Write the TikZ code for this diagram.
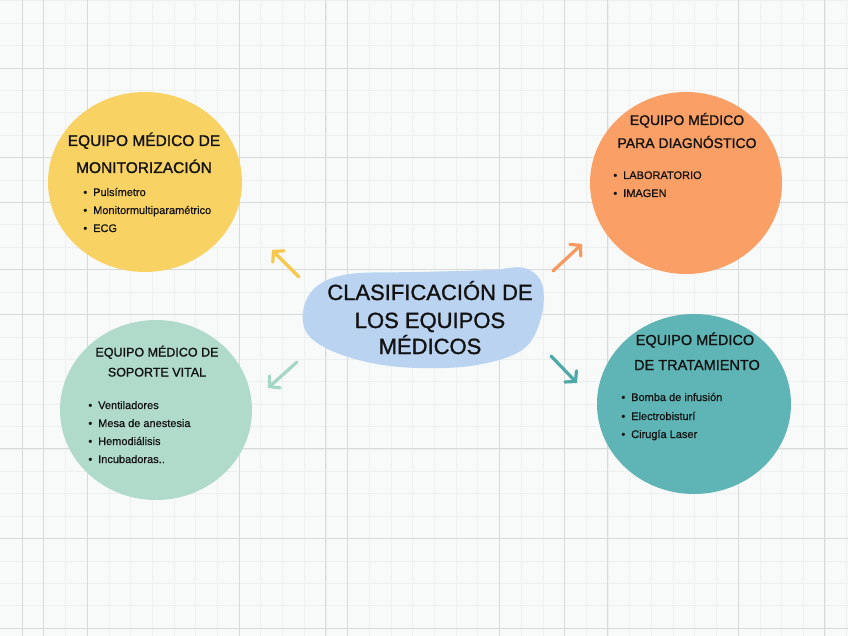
\documentclass[tikz,border=0pt]{standalone}
\usepackage{fontspec}
\setmainfont{Liberation Sans}
\newfontfamily\headfont[FakeBold=1.2]{Liberation Sans}
\newfontfamily\itemfont[FakeBold=0.6]{Liberation Sans}
\usetikzlibrary{arrows.meta,shapes.geometric}
\definecolor{bgc}{HTML}{F8F9F9}
\definecolor{gridfaint}{HTML}{EEEFEF}
\definecolor{gridmajor}{HTML}{D8D9D9}
\definecolor{cyellow}{HTML}{F9D264}
\definecolor{corange}{HTML}{FAA066}
\definecolor{cmint}{HTML}{B0DBCB}
\definecolor{cteal}{HTML}{5FB5B5}
\definecolor{cblob}{HTML}{B9D3F1}
\definecolor{ayellow}{HTML}{F6C84E}
\definecolor{aorange}{HTML}{F8985C}
\definecolor{amint}{HTML}{A6D6C6}
\definecolor{ateal}{HTML}{4EA9A9}
\definecolor{ink}{HTML}{121212}
\tikzset{
  gridf/.style={draw=gridfaint, line width=0.6pt},
  gridm/.style={draw=gridmajor, line width=0.9pt},
  bubble/.style={ellipse, inner sep=0pt, draw=none},
  ttl/.style={anchor=base, inner sep=0pt, text=ink},
  itm/.style={anchor=base west, inner sep=0pt, text=ink, font=\itemfont\fontsize{11}{13}\selectfont},
  arr/.style={line width=3.2pt, line cap=round, line join=round, -{Straight Barb[length=7pt,width=16pt,line cap=round]}},
}
\newcommand{\bul}{\llap{•\hspace{6pt}}}
\begin{document}
\begin{tikzpicture}[x=1pt,y=-1pt]
\useasboundingbox (0,0) rectangle (848,636);
\fill[bgc] (0,0) rectangle (848,636);
% grid
\foreach \i in {0,...,38} \draw[gridf] ({22+21.7*\i},0) -- ({22+21.7*\i},636);
\foreach \j in {0,...,28} \draw[gridf] (0,{0.8+22.4*\j}) -- (848,{0.8+22.4*\j});
\foreach \i in {0,1,3,10,14,15,22,25,27,33,37} \draw[gridm] ({22+21.7*\i},0) -- ({22+21.7*\i},636);
\foreach \j in {3,7,9,12,14,20,24,28} \draw[gridm] (0,{0.8+22.4*\j}) -- (848,{0.8+22.4*\j});

% bubbles
\node[bubble, fill=cyellow, minimum width=194pt, minimum height=180pt] (mon) at (145,182) {};
\node[bubble, fill=corange, minimum width=192pt, minimum height=182pt] (dia) at (686,183) {};
\node[bubble, fill=cmint, minimum width=192pt, minimum height=180pt] (sop) at (156,410) {};
\node[bubble, fill=cteal, minimum width=194pt, minimum height=180pt] (tra) at (694,404) {};

% central blob
\fill[cblob] plot[smooth cycle, tension=0.6] coordinates {(303,312) (316,287) (350,274) (420,272) (490,270) (524,268) (542,284) (541,318) (522,350) (470,366) (400,367) (345,356) (310,337)};
\node[inner sep=0pt] (cen) at (423,318) {};
\node[ttl, font=\headfont\fontsize{22}{26}\selectfont] (c1) at (430,300) {CLASIFICACIÓN DE};
\node[ttl, font=\headfont\fontsize{22}{26}\selectfont] (c2) at (430,328) {LOS EQUIPOS};
\node[ttl, font=\headfont\fontsize{22}{26}\selectfont] (c3) at (430,354) {MÉDICOS};

% arrows
\coordinate (ys) at (299,277); \coordinate (ye) at (272,250);
\coordinate (os) at (553,271); \coordinate (oe) at (582,244);
\coordinate (ms) at (297,362); \coordinate (me) at (268,388);
\coordinate (ts) at (551,356); \coordinate (te) at (577,383);
\draw[arr, ayellow] (ys) -- (ye);
\draw[arr, aorange] (os) -- (oe);
\draw[arr, amint] (ms) -- (me);
\draw[arr, ateal] (ts) -- (te);

% monitorizacion
\node[ttl, font=\headfont\fontsize{15.5}{18}\selectfont] (m1) at (144,146) {EQUIPO MÉDICO DE};
\node[ttl, font=\headfont\fontsize{15.5}{18}\selectfont] (m2) at (144,173) {MONITORIZACIÓN};
\node[itm] (m3) at (93,196) {\bul Pulsímetro};
\node[itm] (m4) at (93,214) {\bul Monitormultiparamétrico};
\node[itm] (m5) at (93,232) {\bul ECG};

% diagnostico
\node[ttl, font=\headfont\fontsize{14}{17}\selectfont] (d1) at (687,125) {EQUIPO MÉDICO};
\node[ttl, font=\headfont\fontsize{14}{17}\selectfont] (d2) at (687,148) {PARA DIAGNÓSTICO};
\node[itm] (d3) at (623,179) {\bul LABORATORIO};
\node[itm] (d4) at (623,197) {\bul IMAGEN};

% soporte vital
\node[ttl, font=\headfont\fontsize{12.5}{15}\selectfont] (s1) at (157,356.5) {EQUIPO MÉDICO DE};
\node[ttl, font=\headfont\fontsize{12.5}{15}\selectfont] (s2) at (157,376.5) {SOPORTE VITAL};
\node[itm] (s3) at (98,409) {\bul Ventiladores};
\node[itm] (s4) at (98,427) {\bul Mesa de anestesia};
\node[itm] (s5) at (98,445) {\bul Hemodiálisis};
\node[itm] (s6) at (98,463) {\bul Incubadoras..};

% tratamiento
\node[ttl, font=\headfont\fontsize{14.5}{17}\selectfont] (t1) at (695,345) {EQUIPO MÉDICO};
\node[ttl, font=\headfont\fontsize{14.5}{17}\selectfont] (t2) at (697,370) {DE TRATAMIENTO};
\node[itm] (t3) at (631,401) {\bul Bomba de infusión};
\node[itm] (t4) at (631,420) {\bul Electrobisturí};
\node[itm] (t5) at (631,438) {\bul Cirugía Laser};
\end{tikzpicture}
\end{document}
